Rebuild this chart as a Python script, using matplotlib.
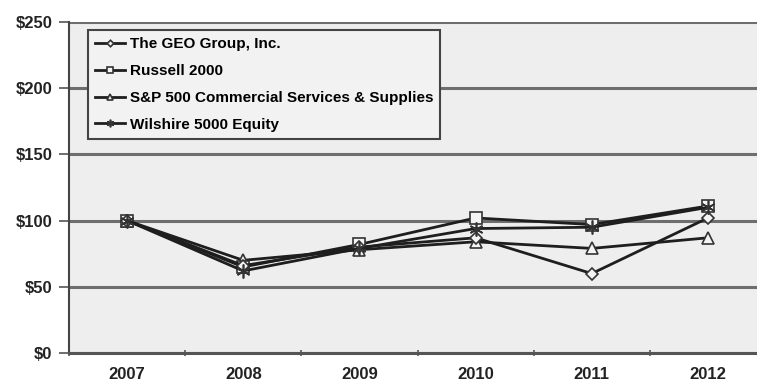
import matplotlib
matplotlib.use("Agg")
import matplotlib.pyplot as plt
import numpy as np

years = ["2007", "2008", "2009", "2010", "2011", "2012"]
geo = [100, 66, 80, 87, 60, 102]
russell = [100, 65, 82, 102, 97, 111]
sp_css = [100, 70, 78, 84, 79, 87]
wilshire = [100, 62, 79, 94, 95, 110]
y_ticks = [0, 50, 100, 150, 200, 250]
y_labels = ["$0", "$50", "$100", "$150", "$200", "$250"]

plt.rcParams['font.family'] = ['Liberation Sans', 'DejaVu Sans']

fig = plt.figure(figsize=(7.57, 3.86), dpi=100)
ax = fig.add_axes([69/757, 1-353/386, (766-69)/757, (353-22)/386])
ax.set_facecolor('#eeeeee')

x = np.arange(len(years))
lc = '#1e1e1e'
kw = dict(color=lc, linewidth=2.0, markerfacecolor='#f4f4f4', markeredgecolor='#333333', markeredgewidth=1.2)
ax.plot(x, geo, marker='D', markersize=6, label='The GEO Group, Inc.', zorder=5, **kw)
ax.plot(x, russell, marker='s', markersize=9, label='Russell 2000', zorder=4, **kw)
ax.plot(x, sp_css, marker='^', markersize=9, label='S&P 500 Commercial Services & Supplies', zorder=3, **kw)
ax.plot(x, wilshire, marker=(6, 2, 0), markersize=10, label='Wilshire 5000 Equity', zorder=6, **kw)

ax.set_xlim(-0.5, len(years) - 0.5)
ax.set_ylim(0, 250)
ax.set_yticks(y_ticks)
ax.set_yticklabels(y_labels, fontsize=12, fontweight='bold', color='#222222')
ax.set_xticks(x)
ax.set_xticklabels(years, fontsize=12, fontweight='bold', color='#222222')
ax.tick_params(axis='x', which='major', length=0, pad=10)
ax.set_xticks(np.arange(-0.5, len(years)), minor=True)
ax.tick_params(axis='x', which='minor', length=5, width=1.2, color='#555555', direction='inout')
ax.tick_params(axis='y', length=7, width=1.2, color='#555555', direction='out', pad=5)

ax.yaxis.grid(True, color='#6e6e6e', linewidth=2.2)
ax.set_axisbelow(True)
for s in ['top', 'right']:
    ax.spines[s].set_visible(False)
ax.spines['left'].set_color('#444444')
ax.spines['left'].set_linewidth(1.5)
ax.spines['bottom'].set_color('#555555')
ax.spines['bottom'].set_linewidth(2.2)

leg = ax.legend(loc='upper left', bbox_to_anchor=((88-69)/697, 1-(30-22)/331),
                borderaxespad=0,
                frameon=True, fancybox=False, edgecolor='#444444', facecolor='#f2f2f2',
                framealpha=1, prop={'weight': 'bold', 'size': 11}, handlelength=2.0,
                handletextpad=0.3, labelspacing=0.85, borderpad=0.45, markerscale=0.55)
leg.get_frame().set_linewidth(1.5)

fig.savefig('out.png', dpi=100, facecolor='white')
